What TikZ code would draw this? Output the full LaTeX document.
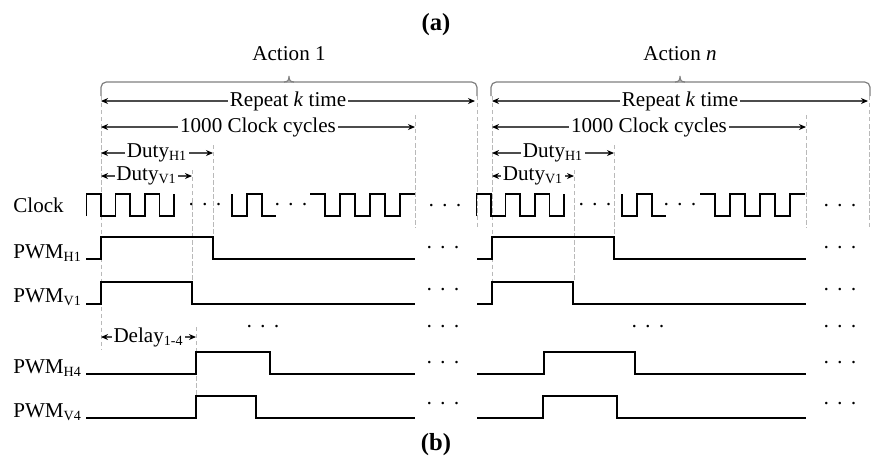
\documentclass[tikz,border=0pt]{standalone}
\usepackage{fontspec}
\setmainfont{Liberation Serif}
\usetikzlibrary{arrows.meta}

\newcommand{\threedots}{·\hspace{3.8pt}·\hspace{3.8pt}·}

\tikzset{
  wave/.style={line width=1.1pt},
  guide/.style={gray!55, line width=0.5pt, dash pattern=on 2.5pt off 1.5pt},
  dim/.style={black!70, line width=0.6pt,
    {Stealth[color=black,length=4pt,width=3.4pt]}-{Stealth[color=black,length=4pt,width=3.4pt]}},
  lbl/.style={fill=white, text=black, inner sep=1pt},
  brace/.style={gray, line width=0.7pt},
  sig/.style={anchor=base west, inner sep=0pt},
  dots/.style={anchor=base, inner sep=0pt},
  part/.style={anchor=base, font=\fontsize{14}{16}\selectfont\bfseries},
}

\begin{document}
\begin{tikzpicture}[x=0.02cm, y=-0.02cm, font=\fontsize{12}{14}\selectfont]
  \useasboundingbox (0,0) rectangle (874,461);

  % titles
  \node[part] (ta) at (436,30) {(a)};
  \node[part] (tb) at (436,450) {(b)};
  \node[anchor=base] (act1) at (289,60) {Action 1};
  \node[anchor=base] (actn) at (680,60) {Action \textit{n}};

  % braces
  \draw[brace, rounded corners=3pt] (101,96) |- (289,82) -| (477,96);
  \draw[brace] (284,82) .. controls (288,82) and (289,80) .. (289,76) .. controls (289,80) and (290,82) .. (294,82);
  \draw[brace, rounded corners=3pt] (491,96) |- (680,82) -| (870,96);
  \draw[brace] (675,82) .. controls (679,82) and (680,80) .. (680,76) .. controls (680,80) and (681,82) .. (685,82);

  % guide lines
  \draw[guide] (101,96) -- (101,350);
  \draw[guide] (213,145) -- (213,237);
  \draw[guide] (192,170) -- (192,282);
  \draw[guide] (196,327) -- (196,396);
  \draw[guide] (415,115) -- (415,228);
  \draw[guide] (477,96) -- (477,228);
  \draw[guide] (492,96) -- (492,282);
  \draw[guide] (614,145) -- (614,237);
  \draw[guide] (574,170) -- (574,282);
  \draw[guide] (806,115) -- (806,228);
  \draw[guide] (869,96) -- (869,228);

  % signal names
  \node[sig] (lclk) at (13,212) {Clock};
  \node[sig] (lh1) at (13,258) {PWM\textsubscript{H1}};
  \node[sig] (lv1) at (13,302) {PWM\textsubscript{V1}};
  \node[sig] (lh4) at (13,373) {PWM\textsubscript{H4}};
  \node[sig] (lv4) at (13,417) {PWM\textsubscript{V4}};

  % action 1 spans
  \coordinate (r1a) at (101,101);  \coordinate (r1b) at (475,101);
  \coordinate (c1a) at (101,127);  \coordinate (c1b) at (415,127);
  \coordinate (h1a) at (101,153);  \coordinate (h1b) at (213,153);
  \coordinate (v1a) at (101,176);  \coordinate (v1b) at (192,176);
  \coordinate (d1a) at (101,337);  \coordinate (d1b) at (196,337);
  \draw[dim] (r1a) -- node[lbl] (rep1) {Repeat \textit{k} time} (r1b);
  \draw[dim] (c1a) -- node[lbl] (cyc1) {1000 Clock cycles} (c1b);
  \draw[dim] (h1a) -- node[lbl] (dh1) {Duty\textsubscript{H1}} (h1b);
  \draw[dim] (v1a) -- node[lbl] (dv1) {Duty\textsubscript{V1}} (v1b);
  \draw[dim] (d1a) -- node[lbl] (dly) {Delay\textsubscript{1-4}} (d1b);

  % action n spans
  \coordinate (r2a) at (492,101);  \coordinate (r2b) at (868,101);
  \coordinate (c2a) at (492,127);  \coordinate (c2b) at (806,127);
  \coordinate (h2a) at (492,153);  \coordinate (h2b) at (614,153);
  \coordinate (v2a) at (492,176);  \coordinate (v2b) at (574,176);
  \draw[dim] (r2a) -- node[lbl] (rep2) {Repeat \textit{k} time} (r2b);
  \draw[dim] (c2a) -- node[lbl] (cyc2) {1000 Clock cycles} (c2b);
  \draw[dim] (h2a) -- node[lbl] (dh2) {Duty\textsubscript{H1}} (h2b);
  \draw[dim] (v2a) -- node[lbl] (dv2) {Duty\textsubscript{V1}} (v2b);

  % clock, same in both actions
  \foreach \dx in {0,390} {
    \begin{scope}[shift={(\dx,0)}]
      \draw[wave] (86.5,216) -- (86.5,194) -- (101,194) -- (101,216) -- (115.5,216) -- (115.5,194)
        -- (130,194) -- (130,216) -- (145,216) -- (145,194) -- (159.5,194) -- (159.5,216)
        -- (174,216) -- (174,194);
      \draw[wave] (232,194) -- (232,216) -- (247,216) -- (247,194) -- (262,194) -- (262,216) -- (276,216);
      \draw[wave] (310,194) -- (325,194) -- (325,216) -- (340,216) -- (340,194) -- (355,194)
        -- (355,216) -- (370,216) -- (370,194) -- (385,194) -- (385,216) -- (400,216)
        -- (400,194) -- (415,194);
    \end{scope}
  }

  % action 1 pwm
  \draw[wave] (86,259) -- (101,259) -- (101,237) -- (213,237) -- (213,259) -- (415,259);
  \draw[wave] (86,304) -- (101,304) -- (101,282) -- (192,282) -- (192,304) -- (415,304);
  \draw[wave] (86,374) -- (196,374) -- (196,352) -- (270,352) -- (270,374) -- (415,374);
  \draw[wave] (86,418) -- (196,418) -- (196,396) -- (256,396) -- (256,418) -- (415,418);

  % action n pwm
  \draw[wave] (477,259) -- (492,259) -- (492,237) -- (614,237) -- (614,259) -- (806,259);
  \draw[wave] (477,304) -- (492,304) -- (492,282) -- (573,282) -- (573,304) -- (806,304);
  \draw[wave] (477,374) -- (544,374) -- (544,352) -- (635,352) -- (635,374) -- (806,374);
  \draw[wave] (477,418) -- (543,418) -- (543,396) -- (617,396) -- (617,418) -- (806,418);

  % dots
  \node[dots] (k1) at (205,211) {\threedots};
  \node[dots] (k2) at (291,211) {\threedots};
  \node[dots] (k3) at (445,212) {\threedots};
  \node[dots] (k4) at (595,211) {\threedots};
  \node[dots] (k5) at (680,211) {\threedots};
  \node[dots] (k6) at (840,212) {\threedots};
  \node[dots] (q1) at (263,333) {\threedots};
  \node[dots] (q2) at (648,333) {\threedots};
  \foreach \y [count=\i] in {249,291,328,364,405} {
    \node[dots] (m\i) at (443,\y+5) {\threedots};
    \node[dots] (e\i) at (840,\y+5) {\threedots};
  }
\end{tikzpicture}
\end{document}
